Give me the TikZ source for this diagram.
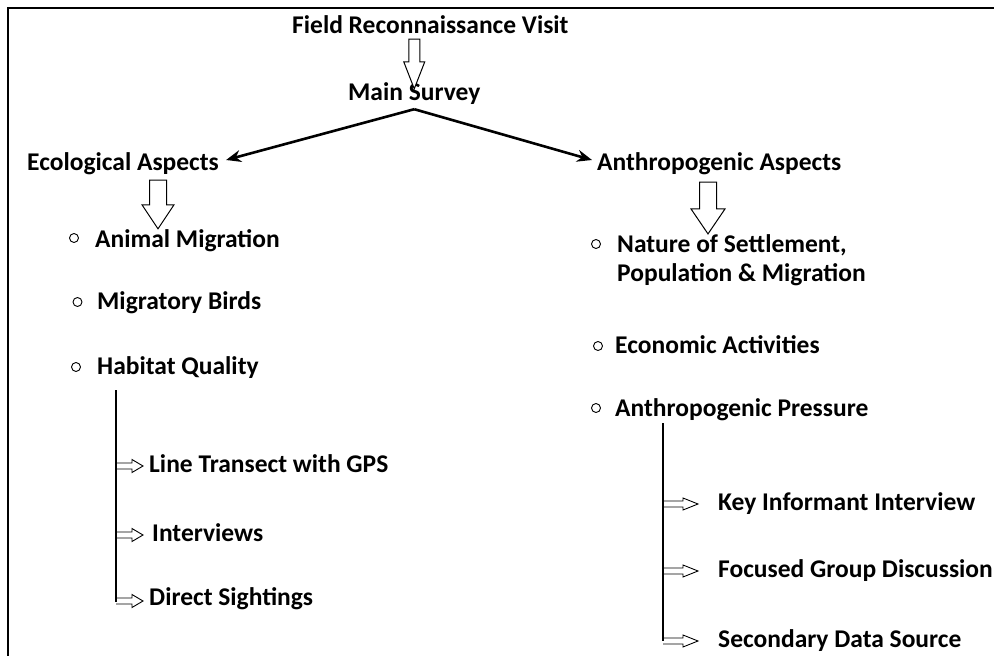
\documentclass[tikz,border=0pt]{standalone}
\usepackage{fontspec}
\setmainfont{Carlito}
\usetikzlibrary{positioning, arrows.meta, calc}

\begin{document}
\begin{tikzpicture}[
  x=1pt, y=-1pt,
  font=\fontsize{25.5}{29}\selectfont\bfseries,
  % Estilos de texto
  item/.style={anchor=base west, inner xsep=2pt, inner ysep=0pt, text height=18pt, text depth=6pt},
  bullet/.style={draw, circle, line width=0.9pt, inner sep=0pt, minimum size=9pt},
  % Estilos de flechas
  line/.style={draw, line width=2.6pt, -{Stealth[length=15pt, width=12pt]}},
  trunk/.style={draw, line width=1.2pt},
  hollowdown/.style args={#1/#2/#3}{draw, line width=1pt, fill=white,
    to path={let \p1=(\tikztostart), \p2=(\tikztotarget) in
      (\x1-#1,\y1) -- (\x1-#1,\y2+#3) -- (\x1-#2,\y2+#3) -- (\x1,\y2)
      -- (\x1+#2,\y2+#3) -- (\x1+#1,\y2+#3) -- (\x1+#1,\y1) -- cycle}},
  hollowright/.style args={#1/#2/#3}{draw, line width=0.9pt,
    to path={let \p1=(\tikztostart), \p2=(\tikztotarget) in
      (\x1,\y1+#1) -- (\x2-#3,\y1+#1) -- (\x2-#3,\y1+#2) -- (\x2,\y1)
      -- (\x2-#3,\y1-#2) -- (\x2-#3,\y1-#1) -- (\x1,\y1-#1)}}
]
  \useasboundingbox (0,0) rectangle (994,656);
  \draw[line width=1.6pt] (8,656) -- (8,8) -- (994,8);

  % ==========================================
  % TOP: RECONNAISSANCE AND MAIN SURVEY
  % ==========================================
  \node[item] (visit) at (290,33) {Field Reconnaissance Visit};
  \node[item] (survey) at (346,100) {Main Survey};
  \draw[hollowdown=5.5pt/10.5pt/27pt] (visit.south -| survey.north) to ([yshift=-7pt]survey.north);

  \coordinate (fork) at ([yshift=-3pt]survey.south);
  \node[item] (eco) at (25,170) {Ecological Aspects};
  \node[item] (anthro) at (595,170) {Anthropogenic Aspects};
  \draw[line] (fork) -- ([xshift=5pt, yshift=4pt]eco.east);
  \draw[line] (fork) -- ([xshift=-3pt, yshift=4pt]anthro.west);

  % ==========================================
  % LEFT: ECOLOGICAL ASPECTS
  % ==========================================
  \node[bullet] (b1) at (74,238) {};
  \node[bullet] (b2) at (77.5,302) {};
  \node[bullet] (b3) at (76,367) {};
  \node[item] (eco_1) at (93,247) {Animal Migration};
  \node[item] (eco_2) at (95,309) {Migratory Birds};
  \node[item] (eco_3) at (95,374) {Habitat Quality};

  \coordinate (eco_in) at (158,180);
  \draw[hollowdown=8.5pt/16pt/24pt] (eco_in) to (eco_in |- eco_1.north);

  % Habitat quality methods
  \node[item] (hab_1) at (147,472) {Line Transect with GPS};
  \node[item] (hab_2) at (150,541) {Interviews};
  \node[item] (hab_3) at (147,605) {Direct Sightings};

  \coordinate (hab_top) at (116,390);
  \draw[trunk] (hab_top) -- ([yshift=-3pt]hab_top |- hab_3.west);
  \draw[hollowright=3pt/6.5pt/11pt] (hab_top |- hab_1.west) to ([xshift=-4pt]hab_1.west);
  \draw[hollowright=3pt/6.5pt/11pt] (hab_top |- hab_2.west) to ([xshift=-7pt]hab_2.west);
  \draw[hollowright=3pt/6.5pt/11pt] ([yshift=-2pt]hab_top |- hab_3.west) to ([xshift=-4pt, yshift=-2pt]hab_3.west);

  % ==========================================
  % RIGHT: ANTHROPOGENIC ASPECTS
  % ==========================================
  \node[bullet] (b4) at (596,244) {};
  \node[bullet] (b5) at (598,346) {};
  \node[bullet] (b6) at (596,408) {};
  \node[item, text height=, text depth=, align=left] (ant_1) at (615,281) {Nature of Settlement,\\Population \& Migration};
  \node[item] (ant_2) at (613,353) {Economic Activities};
  \node[item] (ant_3) at (613,416) {Anthropogenic Pressure};

  \coordinate (ant_in) at (708,182);
  \draw[hollowdown=8.5pt/17pt/25pt] (ant_in) to (ant_in |- ant_1.north);

  % Pressure assessment methods
  \node[item] (pre_1) at (716,510) {Key Informant Interview};
  \node[item] (pre_2) at (716,577) {Focused Group Discussion};
  \node[item] (pre_3) at (716,647) {Secondary Data Source};

  \coordinate (pre_top) at (663,423);
  \draw[trunk] (pre_top) -- (pre_top |- pre_3.west);
  \draw[hollowright=3pt/6pt/15pt] (pre_top |- pre_1.west) to ([xshift=-18pt]pre_1.west);
  \draw[hollowright=3pt/6pt/15pt] (pre_top |- pre_2.west) to ([xshift=-18pt]pre_2.west);
  \draw[hollowright=3pt/6pt/15pt] (pre_top |- pre_3.west) to ([xshift=-18pt]pre_3.west);

\end{tikzpicture}
\end{document}
